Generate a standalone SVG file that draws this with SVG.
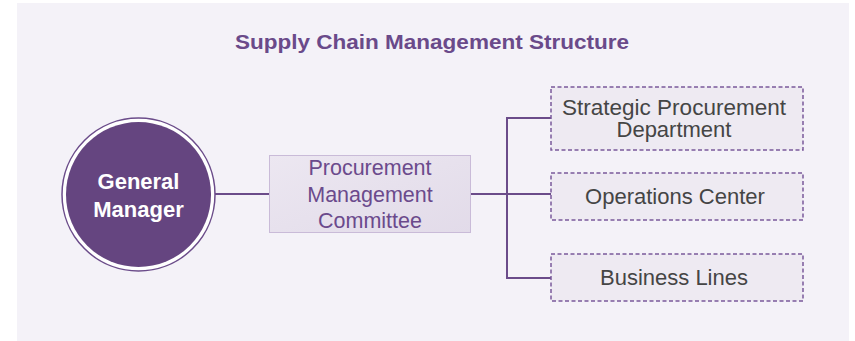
<svg xmlns="http://www.w3.org/2000/svg" width="855" height="341" viewBox="0 0 855 341">
<defs>
<style>
.conn{fill:none;stroke:#6b4c8a;stroke-width:2}
.sub{fill:#eeeaf2;stroke:#7a5a9a;stroke-width:1.5;stroke-dasharray:4 2.5}
.subt{font-family:"Liberation Sans",Arial,sans-serif;font-size:22px;fill:#454545;text-anchor:middle}
.pmct{font-family:"Liberation Sans",Arial,sans-serif;font-size:21.5px;fill:#6b4a8c;text-anchor:middle}
.gmt{font-family:"Liberation Sans",Arial,sans-serif;font-size:22px;font-weight:bold;fill:#ffffff;text-anchor:middle}
</style>
<linearGradient id="pg" x1="0" y1="0" x2="1" y2="1">
<stop offset="0" stop-color="#ece7f1"/>
<stop offset="1" stop-color="#e2dbe9"/>
</linearGradient>
</defs>
<rect x="0" y="0" width="855" height="341" fill="#ffffff"/>
<rect x="17" y="3" width="832" height="338" fill="#f4f2f8"/>
<text x="432" y="49" text-anchor="middle" font-family="'Liberation Sans',Arial,sans-serif" font-size="20" font-weight="bold" fill="#6a4a8a" textLength="394" lengthAdjust="spacingAndGlyphs">Supply Chain Management Structure</text>
<g id="connectors">
<line class="conn" x1="214" y1="194" x2="270" y2="194"/>
<line class="conn" x1="471" y1="194" x2="551" y2="194"/>
<polyline class="conn" points="551,118 507,118 507,278 551,278"/>
</g>
<g id="general-manager">
<circle cx="138.5" cy="194.5" r="76.5" fill="#ffffff" stroke="#6b4c8a" stroke-width="1.5"/>
<circle cx="138.5" cy="194.5" r="72.5" fill="#654580"/>
<text class="gmt" x="138.5" y="189">General</text>
<text class="gmt" x="138.5" y="217">Manager</text>
</g>
<g id="procurement-committee">
<rect x="269.5" y="155.5" width="201" height="77" fill="url(#pg)" stroke="#c9bbd8" stroke-width="1"/>
<text class="pmct" x="370" y="175">Procurement</text>
<text class="pmct" x="370" y="202">Management</text>
<text class="pmct" x="370" y="228">Committee</text>
</g>
<g id="strategic-procurement">
<rect class="sub" x="551" y="87" width="252" height="63"/>
<text class="subt" x="674" y="115" textLength="224" lengthAdjust="spacingAndGlyphs">Strategic Procurement</text>
<text class="subt" x="674" y="137">Department</text>
</g>
<g id="operations-center">
<rect class="sub" x="551" y="173" width="252" height="47"/>
<text class="subt" x="675" y="204">Operations Center</text>
</g>
<g id="business-lines">
<rect class="sub" x="551" y="254" width="252" height="47"/>
<text class="subt" x="674" y="285">Business Lines</text>
</g>
</svg>
